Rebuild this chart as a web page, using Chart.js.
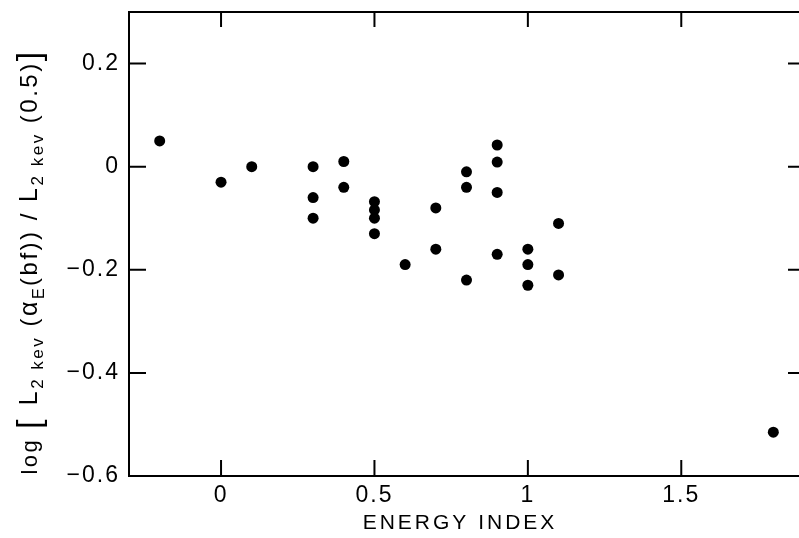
<!DOCTYPE html>
<html>
<head>
<meta charset="utf-8">
<script src="https://cdn.jsdelivr.net/npm/chart.js@4.4.0/dist/chart.umd.min.js"></script>
<style>
  html, body { margin: 0; padding: 0; background: #fff; overflow: hidden; }
  #wrap { width: 820px; height: 538px; }
</style>
</head>
<body>
<div id="wrap"><canvas id="chart" width="820" height="538"></canvas></div>
<script>
// values
const energyIndex = [-0.2, 0, 0.1, 0.3, 0.3, 0.3, 0.4, 0.4, 0.5, 0.5, 0.5, 0.5, 0.6, 0.7,
                     0.7, 0.8, 0.8, 0.8, 0.9, 0.9, 0.9, 0.9, 1.0, 1.0, 1.0, 1.1, 1.1, 1.8];
const logRatio = [0.05, -0.03, 0.0, 0.0, -0.06, -0.1, 0.01, -0.04, -0.068, -0.084, -0.1, -0.13, -0.19, -0.08,
                  -0.16, -0.01, -0.04, -0.22, 0.042, 0.009, -0.05, -0.17, -0.16, -0.19, -0.23, -0.11, -0.21, -0.515];
const xTicks = [0, 0.5, 1, 1.5];
const yTicks = [0.2, 0, -0.2, -0.4, -0.6];
const xTitle = 'ENERGY INDEX';

const FONT = '"Liberation Sans", Arial, sans-serif';

const yTitleParts = [
    { text: 'log ', size: 22, shift: 0 },
    { text: '[ ', size: 34, shift: 3 },
    { text: 'L', size: 25, shift: 0 },
    { text: '2 kev', size: 17, shift: 6 },
    { text: ' (', size: 24, shift: 0 },
    { text: 'α', size: 25, shift: 0 },
    { text: 'E', size: 16, shift: 7 },
    { text: '(bf)) / ', size: 24, shift: 0 },
    { text: 'L', size: 25, shift: 0 },
    { text: '2 kev', size: 17, shift: 6 },
    { text: ' (0.5)', size: 24, shift: 0 },
    { text: ']', size: 34, shift: 3 }
];

function fmt(v) {
    return String(v).replace('-', '\u2212');
}

const frameAndTitles = {
    id: 'frameAndTitles',
    beforeDraw(chart) {
        chart.ctx.letterSpacing = '2px';
    },
    afterDraw(chart) {
        const ctx = chart.ctx;
        const a = chart.chartArea;
        const xs = chart.scales.x, ys = chart.scales.y;
        ctx.save();
        ctx.strokeStyle = '#000';
        ctx.lineWidth = 2;
        ctx.strokeRect(a.left, a.top, a.right - a.left, a.bottom - a.top);

        // inward ticks on all four sides
        ctx.beginPath();
        xTicks.forEach(v => {
            const px = xs.getPixelForValue(v);
            ctx.moveTo(px, a.bottom); ctx.lineTo(px, a.bottom - 16);
            ctx.moveTo(px, a.top); ctx.lineTo(px, a.top + 15);
        });
        yTicks.forEach(v => {
            const py = ys.getPixelForValue(v);
            ctx.moveTo(a.left, py); ctx.lineTo(a.left + 17, py);
            ctx.moveTo(a.right, py); ctx.lineTo(a.right - 16, py);
        });
        ctx.stroke();

        ctx.fillStyle = '#000';
        // x title
        ctx.letterSpacing = '3px';
        ctx.font = '21px ' + FONT;
        ctx.textAlign = 'center';
        ctx.textBaseline = 'middle';
        ctx.fillText(xTitle, 460, 523);

        // y title, rotated, with subscripts
        ctx.letterSpacing = '2.5px';
        ctx.textAlign = 'left';
        ctx.textBaseline = 'alphabetic';
        let total = 0;
        yTitleParts.forEach(p => {
            ctx.font = p.size + 'px ' + FONT;
            p.w = ctx.measureText(p.text).width;
            total += p.w;
        });
        ctx.translate(37, 262);
        ctx.rotate(-Math.PI / 2);
        let x = -total / 2;
        yTitleParts.forEach(p => {
            ctx.font = p.size + 'px ' + FONT;
            ctx.fillText(p.text, x, p.shift);
            x += p.w;
        });
        ctx.restore();
        ctx.letterSpacing = '0px';
    }
};

const points = energyIndex.map((v, i) => ({ x: v, y: logRatio[i] }));

new Chart(document.getElementById('chart').getContext('2d'), {
    type: 'scatter',
    data: {
        datasets: [{
            data: points,
            backgroundColor: '#000',
            borderWidth: 0,
            pointRadius: 5.5,
            pointHoverRadius: 5.5
        }]
    },
    options: {
        responsive: false,
        animation: false,
        events: [],
        layout: { padding: { top: 12, right: 16, left: 0, bottom: 0 } },
        plugins: {
            legend: { display: false },
            tooltip: { enabled: false }
        },
        scales: {
            x: {
                type: 'linear',
                min: -0.3,
                max: 1.9,
                grid: { display: false, drawTicks: false },
                border: { display: false },
                afterBuildTicks: s => { s.ticks = xTicks.map(v => ({ value: v })); },
                afterFit: s => { s.height = 62; s.paddingLeft = 0; s.paddingRight = 0; },
                ticks: {
                    color: '#000',
                    padding: 6,
                    maxRotation: 0,
                    font: { family: FONT, size: 23 },
                    callback: v => fmt(v)
                }
            },
            y: {
                type: 'linear',
                min: -0.6,
                max: 0.3,
                grid: { display: false, drawTicks: false },
                border: { display: false },
                afterBuildTicks: s => { s.ticks = yTicks.map(v => ({ value: v })); },
                afterFit: s => { s.width = 129; s.paddingTop = 0; s.paddingBottom = 0; },
                ticks: {
                    color: '#000',
                    padding: 9,
                    font: { family: FONT, size: 23 },
                    callback: v => fmt(v)
                }
            }
        }
    },
    plugins: [frameAndTitles]
});
</script>
</body>
</html>
